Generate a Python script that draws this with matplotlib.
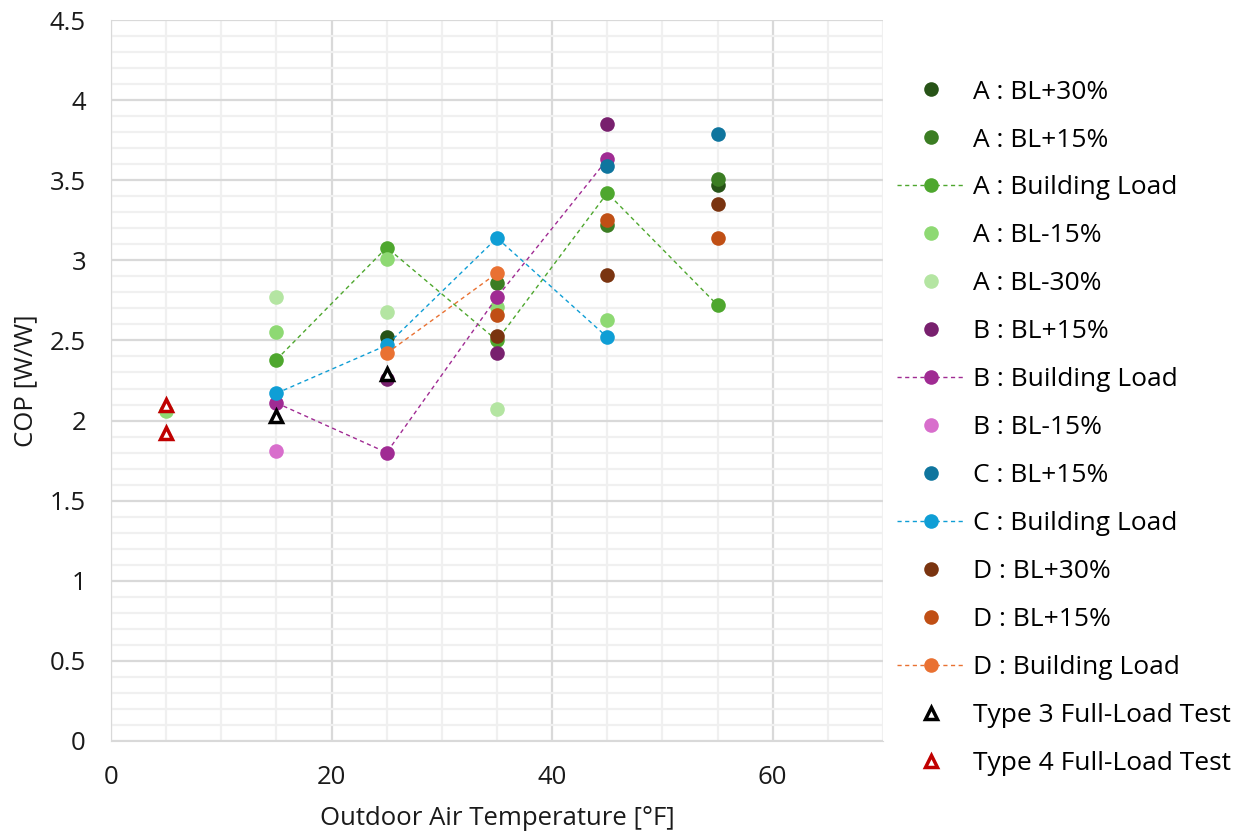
import matplotlib
matplotlib.use("Agg")
import matplotlib.pyplot as plt
from matplotlib.ticker import MultipleLocator

plt.rcParams['font.family'] = ['Open Sans', 'DejaVu Sans']

# outdoor temperature [F] and COP [W/W] for each series
a_p30_x = [25, 55]
a_p30_y = [2.52, 3.47]
a_p15_x = [35, 45, 55]
a_p15_y = [2.86, 3.22, 3.51]
a_bl_x = [15, 25, 35, 45, 55]
a_bl_y = [2.38, 3.08, 2.50, 3.42, 2.72]
a_m15_x = [5, 15, 25, 35, 45]
a_m15_y = [2.06, 2.55, 3.01, 2.71, 2.63]
a_m30_x = [15, 25, 35]
a_m30_y = [2.77, 2.68, 2.07]
b_p15_x = [25, 35, 45]
b_p15_y = [2.26, 2.42, 3.85]
b_bl_x = [15, 25, 35, 45]
b_bl_y = [2.11, 1.80, 2.77, 3.63]
b_m15_x = [15]
b_m15_y = [1.81]
c_p15_x = [45, 55]
c_p15_y = [3.59, 3.79]
c_bl_x = [15, 25, 35, 45]
c_bl_y = [2.17, 2.47, 3.14, 2.52]
d_p30_x = [35, 45, 55]
d_p30_y = [2.53, 2.91, 3.35]
d_p15_x = [35, 45, 55]
d_p15_y = [2.66, 3.25, 3.14]
d_bl_x = [25, 35]
d_bl_y = [2.42, 2.92]
t3_x = [15, 25]
t3_y = [2.03, 2.29]
t4_x = [5, 5]
t4_y = [2.10, 1.92]

fig = plt.figure(figsize=(12.45, 8.34), dpi=100)
ax = fig.add_axes([111/1245, 93/834, (883-111)/1245, (741-20)/834])

ms = 10.5
def dots(x, y, color, label):
    ax.plot(x, y, 'o', ms=ms, color=color, mec='none', label=label)

def dashed(x, y, color, label):
    ax.plot(x, y, '--', marker='o', ms=ms, color=color, mec='none', lw=1.0,
            dashes=(3, 2.5), label=label)

dots(a_p30_x, a_p30_y, '#275317', 'A : BL+30%')
dots(a_p15_x, a_p15_y, '#3b7d23', 'A : BL+15%')
dashed(a_bl_x, a_bl_y, '#4ea72e', 'A : Building Load')
dots(a_m15_x, a_m15_y, '#8ed973', 'A : BL-15%')
dots(a_m30_x, a_m30_y, '#b4e5a2', 'A : BL-30%')
dots(b_p15_x, b_p15_y, '#78206e', 'B : BL+15%')
dashed(b_bl_x, b_bl_y, '#a02b93', 'B : Building Load')
dots(b_m15_x, b_m15_y, '#d86ecc', 'B : BL-15%')
dots(c_p15_x, c_p15_y, '#0f759e', 'C : BL+15%')
dashed(c_bl_x, c_bl_y, '#0f9ed5', 'C : Building Load')
dots(d_p30_x, d_p30_y, '#7a3410', 'D : BL+30%')
dots(d_p15_x, d_p15_y, '#c04f15', 'D : BL+15%')
dashed(d_bl_x, d_bl_y, '#e97132', 'D : Building Load')
ax.plot(t3_x, t3_y, '^', ms=9, mfc='white', mec='black', mew=2.5,
        label='Type 3 Full-Load Test')
ax.plot(t4_x, t4_y, '^', ms=9, mfc='white', mec='#c00000', mew=2.5,
        label='Type 4 Full-Load Test')

ax.set_xlim(0, 70)
ax.set_ylim(0, 4.5)
ax.xaxis.set_major_locator(MultipleLocator(20))
ax.xaxis.set_minor_locator(MultipleLocator(5))
ax.yaxis.set_minor_locator(MultipleLocator(0.1))
ax.set_yticks([0, 0.5, 1, 1.5, 2, 2.5, 3, 3.5, 4, 4.5])
ax.set_yticklabels(['0', '0.5', '1', '1.5', '2', '2.5', '3', '3.5', '4', '4.5'])
ax.grid(which='major', color='#d9d9d9', lw=1.6)
ax.grid(which='minor', color='#f0f0f0', lw=1.6)
ax.set_axisbelow(True)
for s in ['top', 'right']:
    ax.spines[s].set_visible(False)
ax.spines['left'].set_color('#d9d9d9')
ax.spines['bottom'].set_color('#d9d9d9')
ax.tick_params(which='both', length=0, labelsize=18.5, colors='#1a1a1a')
ax.tick_params(axis='y', pad=18)
ax.tick_params(axis='x', pad=17)

ax.set_xlabel('Outdoor Air Temperature [°F]', fontsize=18.5, color='#1a1a1a', labelpad=12)
ax.set_ylabel('COP [W/W]', fontsize=18.5, color='#1a1a1a', labelpad=8)

ax.legend(loc='upper left', bbox_to_anchor=(886/1245, 1 - 69/834),
          bbox_transform=fig.transFigure, frameon=False, fontsize=19,
          labelspacing=0.87, handlelength=2.6, handletextpad=0.28,
          borderaxespad=0)

fig.savefig('out.png', dpi=100)
